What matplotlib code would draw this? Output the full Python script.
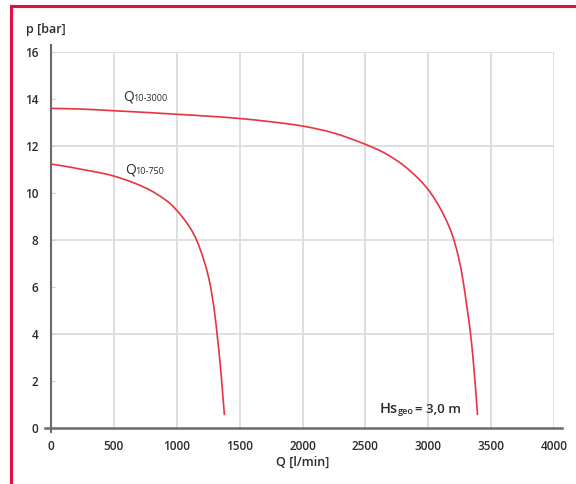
import matplotlib
matplotlib.use("Agg")
import matplotlib.pyplot as plt
from matplotlib.lines import Line2D
from matplotlib.path import Path
from matplotlib.patches import PathPatch
from matplotlib.transforms import offset_copy

# ---- data ----
q_3000 = [0, 250, 500, 750, 1000, 1250, 1500, 1750, 2000, 2250, 2500, 2650, 2800,
          2935, 3015, 3095, 3161, 3201, 3241, 3276, 3307, 3333, 3355, 3373, 3392]
p_3000 = [13.6, 13.57, 13.5, 13.43, 13.35, 13.27, 13.17, 13.03, 12.85, 12.55, 12.07,
          11.71, 11.19, 10.54, 10.03, 9.35, 8.63, 8.05, 7.26, 6.3, 5.16, 4.17, 3.03,
          1.9, 0.55]

q_750 = [0, 100, 250, 400, 500, 650, 788, 880, 947, 1026, 1106, 1159, 1212, 1252,
         1278, 1305, 1323, 1345, 1363, 1379]
p_750 = [11.23, 11.15, 11.0, 10.85, 10.72, 10.45, 10.12, 9.82, 9.55, 9.1, 8.52, 7.98,
         7.2, 6.44, 5.73, 4.74, 3.89, 2.75, 1.62, 0.55]

x_ticks = [0, 500, 1000, 1500, 2000, 2500, 3000, 3500, 4000]
y_ticks = [0, 2, 4, 6, 8, 10, 12, 14, 16]
y_grid = [4, 8, 12, 16]

FONT = "Open Sans"
TXT = "#2b2b2b"
RED = "#e8343f"

fig = plt.figure(figsize=(5.76, 4.84), dpi=100)
W, H = 576, 484
x0, x1 = 51, 554
y0, y1 = 428, 52
ax = fig.add_axes([x0 / W, 1 - y0 / H, (x1 - x0) / W, (y0 - y1) / H])
XMAX, YMAX = 4000, 16
ax.set_xlim(0, XMAX)
ax.set_ylim(0, YMAX)

# grid
for xv in x_ticks[1:]:
    ax.axvline(xv, color="#dcdcdc", lw=1.3, zorder=0)
for yv in y_grid:
    ax.axhline(yv, color="#dcdcdc", lw=1.3, zorder=0)

for s in ax.spines.values():
    s.set_visible(False)

# axes lines with overhang
ax.axhline(0, xmin=-6 / (x1 - x0), xmax=1 + 8 / (x1 - x0), color="#706868", lw=1.8,
           clip_on=False, zorder=3)
ax.axvline(0, ymin=-4 / (y0 - y1), ymax=1 + 7 / (y0 - y1), color="#706868", lw=1.5,
           clip_on=False, zorder=3)


def smooth_path(xs, ys, sx, sy, alpha=0.5):
    """Centripetal Catmull-Rom curve through the read points (cubic Bezier path)."""
    pts = [(x * sx, y * sy) for x, y in zip(xs, ys)]
    n = len(pts)

    def dist(a, b):
        return max(((a[0] - b[0]) ** 2 + (a[1] - b[1]) ** 2) ** (0.5 * alpha), 1e-9)

    verts = [pts[0]]
    codes = [Path.MOVETO]
    for i in range(n - 1):
        p1, p2 = pts[i], pts[i + 1]
        p0 = pts[i - 1] if i > 0 else (2 * p1[0] - p2[0], 2 * p1[1] - p2[1])
        p3 = pts[i + 2] if i + 2 < n else (2 * p2[0] - p1[0], 2 * p2[1] - p1[1])
        d01, d12, d23 = dist(p0, p1), dist(p1, p2), dist(p2, p3)
        m1, m2 = [], []
        for k in range(2):
            t1 = (p1[k] - p0[k]) / d01 - (p2[k] - p0[k]) / (d01 + d12) + (p2[k] - p1[k]) / d12
            t2 = (p2[k] - p1[k]) / d12 - (p3[k] - p1[k]) / (d12 + d23) + (p3[k] - p2[k]) / d23
            m1.append(t1 * d12)
            m2.append(t2 * d12)
        c1 = (p1[0] + m1[0] / 3, p1[1] + m1[1] / 3)
        c2 = (p2[0] - m2[0] / 3, p2[1] - m2[1] / 3)
        verts += [c1, c2, p2]
        codes += [Path.CURVE4] * 3
    verts = [(vx / sx, vy / sy) for vx, vy in verts]
    return Path(verts, codes)


SX = (x1 - x0) / XMAX
SY = (y0 - y1) / YMAX
for qs, ps in ((q_3000, p_3000), (q_750, p_750)):
    ax.add_patch(PathPatch(smooth_path(qs, ps, SX, SY), facecolor="none",
                           edgecolor=RED, lw=1.2, zorder=4, capstyle="butt"))

ax.set_xticks(x_ticks)
ax.set_yticks(y_ticks)
ax.set_xticklabels([str(v) for v in x_ticks], fontfamily=FONT, fontweight="semibold",
                   fontsize=8.5, color=TXT)
ax.set_yticklabels([str(v) for v in y_ticks], fontfamily=FONT, fontweight="semibold",
                   fontsize=8.5, color=TXT)
ax.tick_params(axis="x", length=0, pad=9)
ax.tick_params(axis="y", length=3, direction="in", color="#cfcfcf", pad=9)

ax.set_xlabel("Q [l/min]", fontfamily=FONT, fontweight="semibold", fontsize=9,
              color=TXT, labelpad=2)
fig.text(26 / W, 1 - 33 / H, "p [bar]", fontfamily=FONT, fontweight="semibold",
         fontsize=9, color=TXT, ha="left", va="baseline")


def sub_label(xd, yd, main, sub, dx_sub=10.5):
    ax.text(xd, yd, main, fontfamily=FONT, fontsize=10, color=TXT, va="baseline",
            ha="left", zorder=5)
    tr = offset_copy(ax.transData, fig=fig, x=dx_sub, y=-1, units="dots")
    ax.text(xd, yd, sub, transform=tr, fontfamily=FONT, fontsize=6.5, color=TXT,
            va="baseline", ha="left", zorder=5)


sub_label(573, 13.95, "Q", "10-3000")
sub_label(589, 10.85, "Q", "10-750")

ax.text(2617, 0.64, "Hs", fontfamily=FONT, fontweight="semibold", fontsize=10.5,
        color=TXT, va="baseline", ha="left", zorder=5)
tr = offset_copy(ax.transData, fig=fig, x=18, y=-1, units="dots")
ax.text(2617, 0.64, "geo", transform=tr, fontfamily=FONT, fontweight="semibold",
        fontsize=6.5, color=TXT, va="baseline", ha="left", zorder=5)
tr2 = offset_copy(ax.transData, fig=fig, x=35, y=0, units="dots")
ax.text(2617, 0.64, "= 3,0 m", transform=tr2, fontfamily=FONT, fontweight="semibold",
        fontsize=9.5, color=TXT, va="baseline", ha="left", zorder=5)

# red frame
fig.add_artist(Line2D([11 / W, 11 / W], [0, 1 - 6 / H], color="#e3103f", lw=2.2,
                      transform=fig.transFigure))
fig.add_artist(Line2D([11 / W, 1], [1 - 6 / H, 1 - 6 / H], color="#e3103f", lw=2.2,
                      transform=fig.transFigure))

fig.savefig("out.png", dpi=100)
